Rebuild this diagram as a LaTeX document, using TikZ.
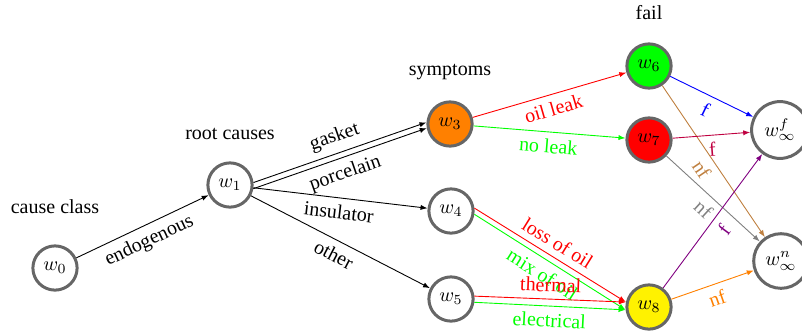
\documentclass[tikz,border=0pt]{standalone}
\usepackage{fontspec}
\setmainfont{Liberation Serif}
\usetikzlibrary{arrows.meta}
\definecolor{ringgray}{RGB}{102,102,102}
\begin{document}
\begin{tikzpicture}[x=0.5pt,y=-0.5pt,
        state/.style={circle,draw=ringgray,line width=1.5pt,minimum size=21.5pt,fill=white},
        edge/.style={-{Latex[length=3.5pt,width=2.6pt]},line width=0.45pt}]
        \useasboundingbox (0,0) rectangle (802,333);
        % levels
        \node (causeclass) at (55,207) {cause class};
        \node (rootcauses) at (230,134) {root causes};
        \node (symptoms) at (450,72) {symptoms};
        \node (fail) at (649,13) {fail};
        % states
        \node[state] (w0) at (55,268) {$w_0$};
        \node[state] (w1) at (230,185) {$w_1$};
        \node[state,fill=orange] (w3) at (450,124) {$w_3$};
        \node[state] (w4) at (451,211) {$w_4$};
        \node[state] (w5) at (451,299) {$w_5$};
        \node[state,fill=green] (w6) at (649,66) {$w_6$};
        \node[state,fill=red] (w7) at (649,140) {$w_7$};
        \node[state,fill=yellow] (w8) at (649,307) {$w_8$};
        \node[state] (wf) at (780,130) {$w_\infty^f$};
        \node[state] (wn) at (781,261) {$w_\infty^n$};
        % transitions
        \draw[edge] (w0) -- (w1) node[midway,sloped,below] {endogenous};
        \draw[edge] (w1.6) -- (w3.176) node[midway,sloped,above] {gasket};
        \draw[edge] (w1.-9) -- (w3.190) node[midway,sloped,below] {porcelain};
        \draw[edge] (w1) -- (w4) node[midway,sloped,below] {insulator};
        \draw[edge] (w1) -- (w5) node[midway,sloped,below] {other};
        \draw[edge,red] (w3) -- (w6) node[midway,sloped,below] {oil leak};
        \draw[edge,green] (w3) -- (w7) node[midway,sloped,below] {no leak};
        \draw[edge,red] (w4.7) -- (w8.168) node[midway,sloped,above] {loss of oil};
        \draw[edge,green] (w4.-8) -- (w8.187) node[midway,sloped,below] {mix of oil};
        \draw[edge,red] (w5.7) -- (w8.168) node[midway,sloped,above] {thermal};
        \draw[edge,green] (w5.-8) -- (w8.187) node[midway,sloped,below] {electrical};
        \draw[edge,blue] (w6) -- (wf) node[midway,sloped,below] {f};
        \draw[edge,brown] (w6) -- (wn) node[midway,sloped,below] {nf};
        \draw[edge,purple] (w7) -- (wf) node[midway,sloped,below] {f};
        \draw[edge,gray] (w7) -- (wn) node[midway,sloped,below] {nf};
        \draw[edge,violet] (w8) -- (wf) node[midway,sloped,below] {f};
        \draw[edge,orange] (w8) -- (wn) node[midway,sloped,below] {nf};
\end{tikzpicture}
\end{document}
